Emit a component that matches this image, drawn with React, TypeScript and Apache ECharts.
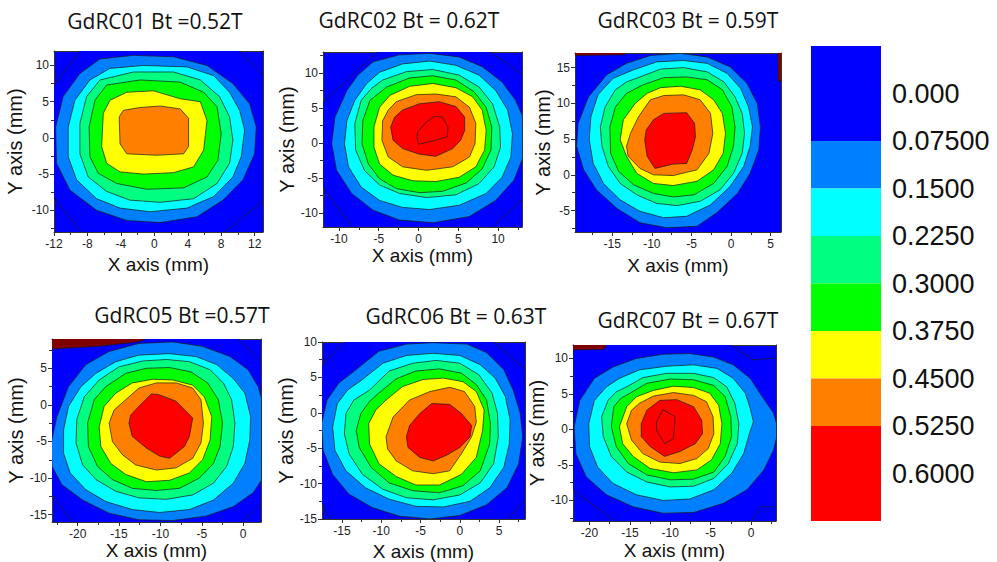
import React, { useEffect, useRef } from 'react';
import * as echarts from 'echarts';

// ---------- colours of the contour levels ----------
// 0: <0.075 (blue), 1: 0.075, 2: 0.15, 3: 0.225, 4: 0.3, 5: 0.375, 6: 0.45, 7: 0.525, 8: 0.6, 9: out-of-range
const LEVEL_COLORS = ['#0000ff', '#0080ff', '#00ffff', '#00ff80', '#00ff00', '#ffff00', '#ff8000', '#ff0000', '#ff0000', '#800000'];

// ---------- colour bar ----------
const COLORBAR_LABELS = ['0.000', '0.07500', '0.1500', '0.2250', '0.3000', '0.3750', '0.4500', '0.5250', '0.6000'];
const COLORBAR_EDGES = [-0.075, 0.075, 0.15, 0.225, 0.3, 0.375, 0.45, 0.525, 0.675];
const COLORBAR_LEVELS = [0, 1, 2, 3, 4, 5, 6, 7];

// ---------- panels ----------
const TITLES = ['GdRC01 Bt =0.52T', 'GdRC02 Bt = 0.62T', 'GdRC03 Bt = 0.59T', 'GdRC05 Bt =0.57T', 'GdRC06 Bt = 0.63T', 'GdRC07 Bt = 0.67T'];
const X_RANGES = [[-12, 13], [-12, 13], [-19.7, 6.3], [-23.1, 2.15], [-17.55, 8.3], [-22.05, 3.1]];
const Y_RANGES = [[-13, 12], [-12, 13], [-8, 17.05], [-16, 9], [-15, 10], [-12.9, 11.9]];
const X_TICKS = [[-12, -8, -4, 0, 4, 8, 12], [-10, -5, 0, 5, 10], [-15, -10, -5, 0, 5], [-20, -15, -10, -5, 0], [-15, -10, -5, 0, 5], [-20, -15, -10, -5, 0]];
const X_MINOR = [[-10, -6, -2, 2, 6, 10], [-7.5, -2.5, 2.5, 7.5, 12.5], [-17.5, -12.5, -7.5, -2.5, 2.5], [-22.5, -17.5, -12.5, -7.5, -2.5], [-12.5, -7.5, -2.5, 2.5, 7.5], [-17.5, -12.5, -7.5, -2.5, 2.5]];
const Y_TICKS = [[-10, -5, 0, 5, 10], [-10, -5, 0, 5, 10], [-5, 0, 5, 10, 15], [-15, -10, -5, 0, 5], [-15, -10, -5, 0, 5, 10], [-10, -5, 0, 5, 10]];
const Y_MINOR = [[-12.5, -7.5, -2.5, 2.5, 7.5], [-7.5, -2.5, 2.5, 7.5, 12.5], [-7.5, -2.5, 2.5, 7.5, 12.5], [-12.5, -7.5, -2.5, 2.5, 7.5], [-12.5, -7.5, -2.5, 2.5, 7.5], [-12.5, -7.5, -2.5, 2.5, 7.5]];

// ---------- contour polygons (x, y in mm), one list per panel ----------
const GD01_LEVELS = [0, 9, 1, 2, 3, 4, 5, 6];
const GD01_POLYS = [
  [[-8.0, 13.5], [9.0, 13.5], [13.6, 8.0], [13.6, -8.2], [7.8, -13.6], [-8.3, -13.6], [-12.6, -7.4], [-12.6, 6.3]],
  [[12.3, 12.5], [13.5, 12.5], [13.5, 11.2]],
  [[-6.5, 10.9], [-2.5, 11.4], [2.3, 11.2], [6.3, 10.0], [9.4, 7.5], [11.4, 4.7], [12.2, 1.5], [12.0, -2.2], [10.6, -5.8], [8.2, -8.6], [5.1, -10.9], [0.7, -11.7], [-3.3, -11.4], [-6.9, -10.0], [-10.1, -7.2], [-11.7, -3.5], [-11.8, 1.5], [-10.9, 5.7], [-8.9, 8.9]],
  [[-5.3, 9.6], [-1.3, 10.0], [3.9, 9.8], [7.1, 8.6], [9.0, 6.3], [10.2, 3.8], [10.8, 1.1], [10.4, -2.6], [9.4, -5.4], [7.1, -8.1], [3.9, -9.7], [-0.5, -10.2], [-4.1, -9.7], [-6.9, -8.4], [-9.3, -5.8], [-10.3, -2.6], [-10.3, 1.5], [-9.5, 5.2], [-7.7, 8.0]],
  [[-6.5, 8.0], [-2.5, 9.1], [2.3, 9.1], [5.5, 8.0], [7.8, 5.7], [9.0, 2.9], [9.4, -0.3], [9.0, -3.5], [7.5, -6.3], [4.7, -8.4], [0.7, -8.9], [-2.9, -8.6], [-5.7, -7.4], [-7.9, -5.4], [-8.9, -2.2], [-8.9, 2.0], [-8.1, 5.7]],
  [[-5.7, 7.3], [-1.7, 8.0], [3.1, 7.7], [5.9, 6.3], [7.5, 4.3], [8.0, 0.6], [7.6, -3.1], [6.3, -5.4], [3.5, -6.9], [-0.9, -7.1], [-4.5, -6.3], [-6.7, -4.9], [-7.7, -2.6], [-7.8, 1.5], [-7.1, 5.2]],
  [[-5.3, 5.2], [-3.3, 6.3], [-0.1, 6.5], [3.1, 5.4], [5.5, 5.0], [6.3, 2.4], [5.9, -1.7], [4.7, -4.0], [2.3, -4.8], [-1.3, -5.0], [-4.1, -4.7], [-5.7, -3.5], [-6.3, -1.2], [-6.1, 3.4]],
  [[-3.7, 3.8], [-1.7, 4.2], [0.7, 4.4], [3.1, 4.0], [4.1, 2.7], [4.1, -1.2], [3.5, -2.2], [0.3, -2.4], [-3.3, -2.2], [-4.1, -0.8], [-4.2, 2.9]],
];

const GD02_LEVELS = [0, 1, 2, 3, 4, 5, 6, 7, 8];
const GD02_POLYS = [
  [[-4.6, 13.6], [8.3, 13.6], [13.6, 9.3], [13.6, -7.5], [8.7, -12.6], [-8.0, -12.6], [-12.6, -5.4], [-12.6, 5.2]],
  [[-5.7, 11.6], [-2.4, 12.6], [1.4, 12.8], [5.1, 12.3], [8.0, 10.9], [10.5, 8.7], [12.2, 6.1], [13.3, 3.2], [13.3, -1.5], [12.0, -5.3], [9.7, -8.2], [6.4, -10.5], [1.8, -11.4], [-2.4, -11.0], [-5.7, -9.6], [-8.4, -7.2], [-10.3, -3.9], [-10.9, -0.1], [-10.5, 3.7], [-9.0, 7.5], [-7.6, 9.7]],
  [[-4.9, 10.1], [-2.0, 11.3], [1.4, 11.7], [4.7, 11.1], [7.6, 9.7], [9.7, 7.5], [11.2, 4.7], [11.8, 1.3], [11.6, -2.0], [10.5, -4.9], [8.5, -7.2], [5.1, -8.9], [1.4, -9.5], [-2.0, -9.2], [-4.9, -8.2], [-7.2, -6.3], [-8.8, -3.4], [-9.3, -0.1], [-9.0, 3.2], [-8.0, 6.1], [-6.5, 8.5]],
  [[-4.5, 9.0], [-1.5, 10.2], [1.8, 10.5], [5.1, 9.7], [7.6, 8.0], [9.3, 5.6], [10.2, 2.3], [10.3, -0.6], [9.5, -3.4], [7.6, -5.8], [4.7, -7.4], [1.0, -7.8], [-2.4, -7.2], [-4.9, -6.0], [-6.8, -3.9], [-7.9, -1.0], [-8.0, 2.8], [-7.2, 6.1], [-5.9, 7.8]],
  [[-4.0, 8.0], [-1.1, 9.3], [1.8, 9.6], [4.7, 9.0], [7.0, 7.3], [8.5, 5.1], [9.2, 2.3], [9.1, -1.0], [8.0, -3.7], [6.0, -5.7], [3.0, -6.9], [0.1, -7.1], [-2.8, -6.5], [-4.9, -5.1], [-6.3, -3.0], [-7.1, -0.1], [-7.0, 3.2], [-6.1, 6.1]],
  [[-3.6, 6.8], [-1.1, 8.1], [1.8, 8.5], [4.7, 7.9], [6.8, 6.6], [8.0, 4.7], [8.5, 1.8], [8.3, -1.0], [7.2, -3.4], [5.1, -4.9], [2.2, -5.5], [-0.7, -5.4], [-3.2, -4.6], [-4.9, -3.0], [-5.6, -0.6], [-5.6, 2.3], [-4.9, 5.1]],
  [[-2.8, 5.9], [-0.3, 6.9], [2.2, 7.0], [4.7, 6.6], [6.4, 5.1], [7.2, 2.8], [7.1, -0.1], [6.4, -2.0], [4.3, -3.4], [1.0, -3.9], [-2.0, -3.4], [-3.8, -2.0], [-4.6, 0.4], [-4.5, 3.2], [-3.8, 4.7]],
  [[-2.0, 4.7], [0.1, 5.6], [2.6, 5.9], [4.7, 5.2], [5.8, 3.7], [5.8, 1.8], [5.3, 0.4], [4.3, -0.8], [2.2, -1.9], [0.1, -1.6], [-2.0, -0.8], [-3.2, 0.4], [-3.5, 2.3], [-3.0, 3.7]],
  [[-0.1, 1.6], [1.0, 3.0], [2.0, 3.8], [3.0, 3.7], [3.7, 2.3], [3.6, 0.9], [2.2, 0.4], [1.0, 0.1], [0.0, -0.2], [-0.2, 0.9]],
];

const GD03_LEVELS = [9, 9, 1, 2, 3, 4, 5, 6, 7];
const GD03_POLYS = [
  [[-20.2, 17.5], [-13.0, 17.5], [-13.4, 16.8], [-20.2, 16.7]],
  [[5.9, 17.5], [6.8, 17.5], [6.8, 12.7], [5.95, 13.2]],
  [[-13.2, 15.6], [-10.2, 16.7], [-6.4, 17.0], [-3.0, 16.5], [-0.1, 15.1], [2.0, 12.8], [3.3, 10.0], [3.7, 6.7], [3.5, 3.5], [2.4, 0.2], [0.8, -2.6], [-1.8, -5.3], [-4.3, -7.2], [-8.1, -7.4], [-11.5, -6.7], [-14.4, -4.7], [-17.0, -2.1], [-18.6, 0.7], [-19.5, 4.0], [-19.3, 7.2], [-18.0, 10.9], [-15.7, 14.0]],
  [[-12.3, 14.7], [-9.4, 15.8], [-6.0, 16.0], [-3.0, 15.6], [-0.5, 14.2], [1.2, 12.1], [2.2, 9.5], [2.7, 6.7], [2.4, 4.0], [1.6, 1.2], [-0.1, -1.6], [-2.6, -4.2], [-5.6, -5.8], [-8.5, -6.0], [-11.5, -5.1], [-14.0, -3.5], [-16.1, -1.2], [-17.4, 1.6], [-17.9, 4.9], [-17.7, 8.1], [-16.8, 11.2], [-14.9, 13.5]],
  [[-11.5, 13.7], [-8.9, 14.8], [-6.0, 15.0], [-3.0, 14.4], [-0.9, 13.0], [0.5, 10.9], [1.4, 8.6], [1.7, 5.8], [1.4, 3.0], [0.3, 0.2], [-1.4, -2.1], [-3.9, -3.7], [-6.8, -4.3], [-9.4, -4.0], [-11.9, -2.8], [-14.0, -1.2], [-15.5, 1.2], [-16.3, 4.0], [-16.5, 6.7], [-15.9, 9.5], [-14.6, 11.9], [-13.2, 13.0]],
  [[-11.1, 12.6], [-8.5, 13.6], [-5.6, 13.7], [-3.0, 13.3], [-1.1, 11.9], [0.1, 9.5], [0.5, 6.7], [0.3, 4.0], [-0.5, 1.2], [-2.2, -1.2], [-4.7, -2.8], [-7.3, -3.1], [-9.8, -2.6], [-12.3, -1.4], [-14.2, 0.5], [-15.2, 3.0], [-15.3, 6.7], [-14.6, 9.5], [-13.2, 11.4]],
  [[-10.6, 11.4], [-8.9, 12.2], [-6.4, 12.4], [-3.9, 11.9], [-2.2, 10.5], [-1.1, 8.6], [-0.7, 5.8], [-1.0, 3.0], [-2.2, 0.7], [-4.3, -0.9], [-7.3, -1.5], [-9.8, -1.2], [-11.9, 0.2], [-13.2, 2.6], [-14.0, 4.9], [-13.6, 7.7], [-12.1, 10.0]],
  [[-10.2, 10.5], [-8.5, 11.1], [-6.0, 11.2], [-3.9, 10.5], [-2.6, 8.6], [-2.3, 5.8], [-2.8, 3.0], [-4.3, 0.7], [-7.3, -0.1], [-9.8, 0.0], [-11.5, 0.9], [-13.0, 2.6], [-13.2, 4.0], [-12.7, 5.8], [-11.7, 8.1]],
  [[-9.8, 7.7], [-8.5, 8.6], [-5.6, 8.7], [-4.6, 7.2], [-4.5, 5.3], [-4.9, 3.5], [-5.6, 1.6], [-7.3, 1.5], [-9.6, 0.9], [-10.6, 2.6], [-10.9, 4.9], [-10.7, 6.3]],
];

const GD05_LEVELS = [0, 9, 1, 2, 3, 4, 5, 6, 7];
const GD05_POLYS = [
  [[-24, 10], [-1.5, 10], [3, 5], [3, -12.5], [-0.5, -16.5], [-20.3, -16.5], [-24, -11]],
  [[-23.6, 9.5], [-11.9, 9.5], [-11.9, 8.9], [-12.8, 8.6], [-17.4, 8.0], [-23.6, 7.6]],
  [[-19.0, 5.5], [-16.2, 7.3], [-12.6, 8.4], [-8.5, 8.6], [-4.9, 8.0], [-1.6, 6.6], [0.6, 4.8], [1.8, 2.5], [2.5, -0.2], [2.5, -5.7], [2.5, -9.8], [1.2, -12.0], [-1.2, -13.9], [-4.5, -15.2], [-8.5, -15.8], [-12.6, -15.7], [-16.2, -14.8], [-19.4, -13.0], [-21.9, -10.9], [-23.1, -8.4], [-23.2, -5.2], [-22.5, -1.6], [-21.1, 2.5]],
  [[-17.8, 4.3], [-15.4, 5.9], [-12.6, 6.8], [-8.9, 7.0], [-5.7, 6.6], [-3.2, 5.5], [-1.2, 3.6], [0.2, 1.6], [0.9, -1.6], [0.8, -4.8], [0.2, -8.0], [-1.2, -10.7], [-3.6, -13.0], [-6.5, -14.3], [-10.1, -14.7], [-13.4, -14.3], [-16.6, -13.2], [-19.0, -11.6], [-20.9, -9.3], [-21.7, -6.6], [-21.7, -3.4], [-21.1, -0.2], [-19.6, 2.5]],
  [[-17.4, 3.4], [-15.0, 5.2], [-12.1, 6.0], [-9.3, 6.2], [-6.5, 5.9], [-4.0, 4.8], [-2.4, 3.0], [-1.4, 0.7], [-1.0, -2.5], [-1.2, -5.7], [-2.0, -8.4], [-3.6, -10.7], [-6.1, -12.3], [-9.3, -12.9], [-12.6, -12.7], [-15.4, -11.8], [-17.8, -10.2], [-19.4, -8.2], [-20.2, -5.2], [-20.1, -2.0], [-19.2, 1.1]],
  [[-16.6, 2.5], [-14.2, 4.3], [-11.7, 5.0], [-8.9, 5.1], [-6.3, 4.5], [-4.3, 3.0], [-3.0, 0.7], [-2.5, -2.5], [-2.8, -5.7], [-3.6, -8.0], [-5.3, -10.0], [-7.7, -11.4], [-10.5, -11.7], [-13.4, -11.4], [-15.8, -10.2], [-17.6, -8.4], [-18.7, -5.7], [-18.8, -2.5], [-18.0, 0.7]],
  [[-15.4, 1.6], [-13.4, 3.0], [-10.9, 3.5], [-8.5, 3.4], [-6.1, 2.7], [-4.7, 1.1], [-3.8, -1.6], [-4.0, -4.8], [-4.9, -7.5], [-6.5, -9.3], [-8.9, -10.3], [-11.7, -10.5], [-14.2, -9.5], [-16.0, -8.0], [-17.2, -5.7], [-17.4, -3.0], [-16.8, -0.2]],
  [[-14.2, 0.7], [-12.6, 2.3], [-10.5, 3.0], [-8.1, 3.0], [-6.1, 2.3], [-5.1, 0.7], [-4.8, -2.5], [-5.1, -5.2], [-6.1, -7.3], [-8.1, -8.6], [-10.5, -8.9], [-13.0, -8.2], [-14.6, -6.8], [-15.8, -5.0], [-16.2, -2.5], [-15.6, -0.7]],
  [[-11.1, 1.5], [-10.2, 1.4], [-8.1, 0.5], [-6.1, -1.8], [-6.5, -4.3], [-7.1, -5.7], [-8.9, -7.3], [-10.1, -7.0], [-11.7, -5.9], [-13.4, -4.3], [-13.8, -2.5], [-13.6, -1.4], [-12.6, -0.2]],
];

const GD06_LEVELS = [0, 1, 2, 3, 4, 5, 6, 7];
const GD06_POLYS = [
  [[-14.2, 10.5], [3.8, 10.5], [9, 5.5], [9, -11.5], [5.5, -15.7], [-16.3, -15.7], [-18.2, -11.3], [-18.2, 6.0]],
  [[-13.2, 6.1], [-10.3, 8.7], [-6.8, 9.7], [-3.4, 9.9], [0.9, 9.7], [3.4, 8.5], [5.6, 6.1], [6.8, 3.2], [7.7, -0.1], [8.0, -3.4], [7.5, -7.2], [6.0, -10.6], [3.4, -13.0], [0.0, -14.5], [-3.8, -15.0], [-7.7, -14.6], [-11.1, -13.4], [-14.1, -11.5], [-16.2, -8.7], [-17.4, -5.3], [-17.6, -1.5], [-16.9, 1.8], [-15.4, 4.2]],
  [[-12.4, 4.7], [-9.8, 7.0], [-6.8, 8.1], [-3.4, 8.4], [0.0, 8.1], [2.6, 6.8], [4.5, 4.9], [5.8, 2.3], [6.4, -1.0], [6.3, -4.4], [5.6, -7.7], [3.8, -10.6], [1.3, -12.5], [-2.1, -13.3], [-5.6, -13.2], [-9.0, -12.2], [-12.0, -10.6], [-14.5, -8.2], [-15.9, -5.3], [-16.2, -2.0], [-15.6, 1.3], [-14.3, 3.2]],
  [[-11.5, 3.2], [-9.0, 5.9], [-6.0, 7.0], [-3.0, 7.4], [0.0, 7.0], [2.4, 5.4], [4.1, 2.8], [4.8, -0.1], [4.9, -3.4], [4.3, -7.2], [2.6, -9.9], [0.0, -11.6], [-3.4, -12.3], [-6.8, -12.0], [-9.8, -10.8], [-12.4, -8.7], [-14.1, -5.8], [-14.7, -3.0], [-14.5, -0.1], [-13.5, 1.8]],
  [[-10.3, 2.8], [-8.1, 4.8], [-5.6, 5.9], [-2.6, 6.2], [0.2, 5.6], [2.1, 4.0], [3.4, 1.8], [3.9, -1.5], [3.8, -4.4], [2.6, -8.2], [0.4, -10.3], [-2.6, -11.3], [-6.0, -11.0], [-9.0, -9.9], [-11.3, -7.7], [-12.8, -4.9], [-13.2, -2.5], [-12.6, -0.1], [-11.5, 1.6]],
  [[-9.4, 1.8], [-7.3, 3.7], [-4.7, 4.7], [-2.1, 4.9], [0.4, 4.4], [2.1, 3.0], [3.1, 0.4], [2.9, -2.5], [2.1, -6.3], [0.2, -8.7], [-2.6, -10.2], [-5.6, -10.2], [-8.1, -9.0], [-10.3, -7.2], [-11.5, -4.4], [-11.6, -1.5], [-10.7, 0.4]],
  [[-9.4, -3.4], [-8.5, -0.6], [-6.4, 1.8], [-3.8, 3.0], [-1.3, 3.6], [0.6, 3.0], [1.9, 0.9], [2.1, -1.3], [1.5, -3.4], [0.2, -5.8], [-1.3, -8.2], [-3.4, -8.6], [-6.0, -8.2], [-8.1, -6.8], [-9.2, -5.1]],
  [[-6.8, -3.4], [-6.4, -1.8], [-5.1, -0.1], [-3.6, 1.3], [-1.3, 1.2], [0.2, -0.1], [1.5, -1.8], [1.3, -3.4], [0.0, -4.9], [-1.7, -6.0], [-3.4, -6.8], [-5.1, -6.3], [-6.6, -4.9]],
];

const GD07_LEVELS = [0, 9, 1, 2, 3, 4, 5, 6, 7, 8];
const GD07_POLYS = [
  [[-23, 12.5], [-3.2, 12.5], [0.3, 9.8], [3.5, 10.1], [3.5, -10.9], [1.2, -10.9], [-0.3, -13.5], [-16.2, -13.5], [-23, -7.7]],
  [[-22.5, 12.4], [-17.7, 12.4], [-18.2, 11.3], [-22.5, 11.2]],
  [[-17.1, 8.8], [-14.2, 10.0], [-10.9, 10.6], [-7.6, 10.7], [-4.6, 10.2], [-2.2, 9.1], [-0.1, 7.2], [1.4, 4.6], [2.8, 2.3], [3.4, -0.1], [2.8, -2.9], [1.6, -5.7], [-0.5, -8.5], [-3.4, -10.4], [-7.1, -11.7], [-10.9, -11.8], [-14.6, -10.9], [-17.9, -9.2], [-20.4, -6.7], [-21.7, -3.4], [-21.9, 0.4], [-21.2, 4.1], [-19.4, 7.2]],
  [[-16.3, 7.2], [-13.8, 8.4], [-10.5, 8.9], [-7.1, 9.1], [-4.2, 8.6], [-2.2, 7.2], [-0.7, 5.1], [-0.1, 3.0], [0.3, 1.1], [-0.2, -0.6], [-0.9, -3.4], [-2.4, -6.2], [-4.6, -8.5], [-7.6, -9.8], [-10.9, -10.0], [-14.2, -9.2], [-17.1, -7.6], [-19.0, -5.3], [-20.0, -2.4], [-20.1, 0.8], [-19.4, 4.1], [-17.9, 6.0]],
  [[-15.4, 6.0], [-13.4, 7.3], [-10.5, 7.9], [-7.1, 7.9], [-4.6, 7.3], [-3.0, 6.0], [-2.0, 3.7], [-1.5, 0.8], [-1.7, -2.0], [-2.8, -4.8], [-4.6, -6.9], [-7.1, -8.0], [-10.0, -8.1], [-12.9, -7.4], [-15.4, -6.0], [-17.3, -3.8], [-18.3, -1.0], [-18.5, 1.8], [-17.7, 4.1], [-16.7, 5.3]],
  [[-15.0, 5.1], [-12.9, 6.5], [-10.0, 7.1], [-7.1, 7.0], [-4.6, 6.2], [-3.2, 4.6], [-2.5, 1.8], [-2.4, -1.0], [-3.2, -3.8], [-4.6, -6.0], [-7.1, -7.0], [-10.0, -7.1], [-12.9, -6.4], [-15.2, -4.8], [-16.7, -2.4], [-17.3, 0.4], [-17.0, 3.2], [-16.1, 4.4]],
  [[-14.2, 4.6], [-12.1, 5.5], [-9.6, 6.1], [-7.1, 5.9], [-5.1, 5.1], [-4.0, 3.4], [-3.6, 0.8], [-3.8, -2.0], [-4.9, -4.3], [-6.7, -5.7], [-9.6, -6.1], [-12.5, -5.5], [-14.6, -3.8], [-15.9, -2.0], [-16.3, 0.4], [-15.4, 3.2]],
  [[-13.8, 3.7], [-12.1, 4.7], [-9.6, 5.2], [-7.1, 4.8], [-5.5, 3.9], [-4.7, 1.8], [-4.6, -0.6], [-5.3, -2.7], [-6.7, -4.1], [-8.8, -4.8], [-11.3, -4.6], [-13.4, -3.4], [-14.8, -1.5], [-15.4, 0.8], [-14.8, 2.7]],
  [[-12.9, 2.7], [-11.3, 4.1], [-9.2, 4.2], [-7.1, 3.2], [-6.1, 1.3], [-6.0, -0.6], [-6.9, -2.0], [-8.8, -3.1], [-10.7, -3.8], [-12.5, -2.4], [-13.6, -1.0], [-13.6, 0.8]],
  [[-11.7, 1.1], [-10.9, 2.8], [-9.4, 1.8], [-9.6, -1.3], [-10.7, -2.0], [-11.7, -0.1]],
];

const PANEL_LEVELS = [GD01_LEVELS, GD02_LEVELS, GD03_LEVELS, GD05_LEVELS, GD06_LEVELS, GD07_LEVELS];
const PANEL_POLYS = [GD01_POLYS, GD02_POLYS, GD03_POLYS, GD05_POLYS, GD06_POLYS, GD07_POLYS];

// ---------- layout (pixels) ----------
const GRID_BOXES = [[54, 51, 209, 181], [323, 52, 199, 175], [575, 53, 206, 179], [52, 339, 209, 183], [322, 342, 203, 177], [573, 345, 203, 176]];
const TITLE_POS = [[155, 21], [409, 20], [688, 20], [182, 315], [456, 316], [688, 320]];
const X_NAME_GAP = [23, 19, 24, 16, 23, 20];
const Y_NAME_GAP = [29, 21, 19, 20, 21, 16];
const COLORBAR_BOX = [811, 46, 70, 475];

const AXIS_FONT = '"Liberation Sans", Arial, sans-serif';
const TITLE_FONT = '"Open Sans", "Noto Sans", sans-serif';
const AXIS_COLOR = '#333';

function buildOption() {
  const grid: any[] = [];
  const xAxis: any[] = [];
  const yAxis: any[] = [];
  const series: any[] = [];
  const graphic: any[] = [];

  GRID_BOXES.forEach((b, i) => {
    grid.push({ left: b[0], top: b[1], width: b[2], height: b[3], show: true, backgroundColor: LEVEL_COLORS[0], borderWidth: 0, outerBoundsMode: 'none' });
    const [xmin, xmax] = X_RANGES[i];
    const [ymin, ymax] = Y_RANGES[i];
    const line = { show: true, onZero: false, lineStyle: { color: AXIS_COLOR, width: 1 } };
    xAxis.push({
      gridIndex: i, type: 'value', min: xmin, max: xmax, position: 'bottom',
      axisLine: line,
      axisTick: { show: true, customValues: X_TICKS[i], length: 4, lineStyle: { color: AXIS_COLOR } },
      axisLabel: { show: true, customValues: X_TICKS[i], color: '#222', fontSize: 12, fontFamily: AXIS_FONT, margin: 6 },
      splitLine: { show: false },
      name: 'X axis (mm)', nameLocation: 'middle', nameGap: X_NAME_GAP[i],
      nameTextStyle: { fontSize: 19, color: '#111', fontFamily: AXIS_FONT },
    });
    xAxis.push({
      gridIndex: i, type: 'value', min: xmin, max: xmax, position: 'bottom',
      axisLine: { show: false, onZero: false },
      axisTick: { show: true, customValues: X_MINOR[i], length: 3, lineStyle: { color: AXIS_COLOR } },
      axisLabel: { show: false }, splitLine: { show: false },
    });
    xAxis.push({
      gridIndex: i, type: 'value', min: xmin, max: xmax, position: 'top',
      axisLine: line, axisTick: { show: false }, axisLabel: { show: false }, splitLine: { show: false },
    });
    yAxis.push({
      gridIndex: i, type: 'value', min: ymin, max: ymax, position: 'left',
      axisLine: line,
      axisTick: { show: true, customValues: Y_TICKS[i], length: 4, lineStyle: { color: AXIS_COLOR } },
      axisLabel: { show: true, customValues: Y_TICKS[i], color: '#222', fontSize: 12, fontFamily: AXIS_FONT, margin: 5 },
      splitLine: { show: false },
      name: 'Y axis (mm)', nameLocation: 'middle', nameGap: Y_NAME_GAP[i],
      nameTextStyle: { fontSize: 20, color: '#111', fontFamily: AXIS_FONT },
    });
    yAxis.push({
      gridIndex: i, type: 'value', min: ymin, max: ymax, position: 'left',
      axisLine: { show: false, onZero: false },
      axisTick: { show: true, customValues: Y_MINOR[i], length: 3, lineStyle: { color: AXIS_COLOR } },
      axisLabel: { show: false }, splitLine: { show: false },
    });
    yAxis.push({
      gridIndex: i, type: 'value', min: ymin, max: ymax, position: 'right',
      axisLine: line, axisTick: { show: false }, axisLabel: { show: false }, splitLine: { show: false },
    });

    const polys = PANEL_POLYS[i];
    const levels = PANEL_LEVELS[i];
    series.push({
      type: 'custom',
      xAxisIndex: 3 * i,
      yAxisIndex: 3 * i,
      clip: true,
      silent: true,
      data: polys.map((p) => p[0]),
      renderItem: (params: any, api: any) => {
        const poly = polys[params.dataIndex];
        const level = levels[params.dataIndex];
        const points = poly.map((pt) => api.coord(pt));
        return {
          type: 'polygon',
          shape: { points },
          style: { fill: LEVEL_COLORS[level], stroke: '#1a1a1a', lineWidth: 0.7 },
        };
      },
    });

    graphic.push({
      type: 'text',
      x: TITLE_POS[i][0],
      y: TITLE_POS[i][1],
      style: { text: TITLES[i], font: `21px ${TITLE_FONT}`, fill: '#111', textAlign: 'center', textVerticalAlign: 'middle' },
    });
  });

  const cb = COLORBAR_BOX;
  grid.push({ left: cb[0], top: cb[1], width: cb[2], height: cb[3], show: false, outerBoundsMode: 'none' });
  xAxis.push({ gridIndex: 6, type: 'value', min: 0, max: 1, show: false });
  yAxis.push({
    gridIndex: 6, type: 'value', inverse: true, min: -0.075, max: 0.675, interval: 0.075, position: 'right',
    axisLine: { show: false }, axisTick: { show: false }, splitLine: { show: false },
    axisLabel: {
      show: true, fontSize: 27, color: '#111', fontFamily: AXIS_FONT, margin: 11,
      formatter: (v: number) => {
        const k = Math.round(v / 0.075);
        return k >= 0 && k < COLORBAR_LABELS.length ? COLORBAR_LABELS[k] : '';
      },
    },
  });
  series.push({
    type: 'custom',
    xAxisIndex: 18,
    yAxisIndex: 18,
    silent: true,
    data: COLORBAR_LEVELS.map((_, k) => [COLORBAR_EDGES[k], COLORBAR_EDGES[k + 1]]),
    renderItem: (params: any, api: any) => {
      const p0 = api.coord([0, api.value(0)]);
      const p1 = api.coord([1, api.value(1)]);
      return {
        type: 'rect',
        shape: { x: Math.min(p0[0], p1[0]), y: Math.min(p0[1], p1[1]), width: Math.abs(p1[0] - p0[0]), height: Math.abs(p1[1] - p0[1]) },
        style: { fill: LEVEL_COLORS[COLORBAR_LEVELS[params.dataIndex]] },
      };
    },
  });

  return { animation: false, backgroundColor: '#ffffff', grid, xAxis, yAxis, series, graphic };
}

export default function App() {
  const ref = useRef<HTMLDivElement>(null);
  useEffect(() => {
    if (!ref.current) return;
    const chart = echarts.init(ref.current, undefined, { renderer: 'svg' });
    chart.setOption(buildOption() as any);
    return () => chart.dispose();
  }, []);
  return <div ref={ref} style={{ position: 'fixed', left: 0, top: 0, width: 997, height: 562, background: '#fff' }} />;
}
